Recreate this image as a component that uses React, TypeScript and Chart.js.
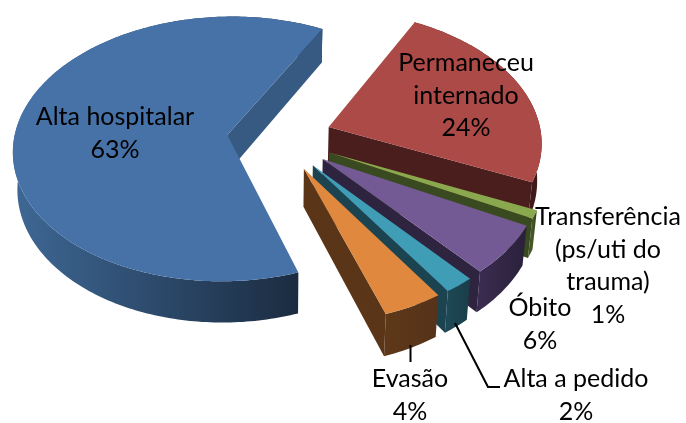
import React, { useEffect, useRef } from "react";
import { Chart, registerables } from "chart.js";

Chart.register(...registerables);

const categories = ["Alta hospitalar", "Permaneceu internado", "Transferência (ps/uti do trauma)", "Óbito", "Alta a pedido", "Evasão"];
const values = [63, 24, 1, 6, 2, 4];
const explode = [52, 53, 55, 55, 55, 55];
const topColors = ["#4672A8", "#AC4A47", "#8AA94E", "#745A95", "#3F9DB5", "#E0883D"];
const wallColors = ["#375A82", "#4A1E1C", "#3A4A20", "#2E2440", "#1B4350", "#5A3517"];
const arcLight = ["#3E6895", "#5C2725", "#445826", "#3A2C50", "#1D4854", "#5E3818"];
const arcDark = ["#1A2A3E", "#3F1A18", "#35441C", "#2A203A", "#193E4A", "#55321A"];
const labelLines = [["Alta hospitalar", "63%"], ["Permaneceu", "internado", "24%"], ["Transferência", "(ps/uti do", "trauma)", "1%"], ["Óbito", "6%"], ["Alta a pedido", "2%"], ["Evasão", "4%"]];
const labelCenterX = [115, 466, 608, 540, 576, 410];
const labelFirstBaseline = [125, 71, 225, 316, 387, 387];
const LINE_HEIGHT = 32.5;
const leaderLines = [[[410.5, 345], [410.5, 362]], [[455, 323], [488, 387], [500, 387]]];

const TILT = 0.617;
const PERSPECTIVE = 0.105;
const DEPTH = 37;
const LEAN = 0.00046;

const pie3d = {
  id: "pie3d",
  beforeDatasetsDraw(chart: any) {
    const { ctx } = chart;
    const arcs = chart.getDatasetMeta(0).data;
    arcs.forEach((el: any, i: number) => {
      const { x: cx, y: cy, startAngle, endAngle, outerRadius: R } = el;
      const off = el.options.offset;
      const mid = (startAngle + endAngle) / 2;
      const ox = cx + Math.cos(mid) * off;
      const oy = cy + Math.sin(mid) * off;
      const project = (px: number, py: number, z: number) => {
        const f = 1 / (1 - (PERSPECTIVE * (py - cy)) / R);
        return [cx + (px - cx) * f * (1 - z * LEAN), cy + (py - cy) * TILT * f + z * f];
      };
      const rim: number[][] = [];
      const steps = Math.max(2, Math.ceil(((endAngle - startAngle) * 180) / Math.PI));
      for (let s = 0; s <= steps; s++) {
        const a = startAngle + ((endAngle - startAngle) * s) / steps;
        rim.push([ox + Math.cos(a) * R, oy + Math.sin(a) * R]);
      }
      const poly = (pts: number[][], fill: any) => {
        ctx.beginPath();
        pts.forEach((p, k) => (k ? ctx.lineTo(p[0], p[1]) : ctx.moveTo(p[0], p[1])));
        ctx.closePath();
        ctx.fillStyle = fill;
        ctx.fill();
      };
      const upper = rim.map((p) => project(p[0], p[1], 0));
      const lower = rim.map((p) => project(p[0], p[1], DEPTH)).reverse();
      const xs = upper.map((p) => p[0]);
      const grad = ctx.createLinearGradient(Math.min(...xs), 0, Math.max(...xs), 0);
      grad.addColorStop(0, arcLight[i]);
      grad.addColorStop(i === 0 ? 0.95 : 1, arcDark[i]);
      poly([...upper, ...lower], grad);
      const last = rim[rim.length - 1];
      poly([project(ox, oy, 0), project(last[0], last[1], 0), project(last[0], last[1], DEPTH), project(ox, oy, DEPTH)], wallColors[i]);
      poly([project(ox, oy, 0), ...upper], topColors[i]);
    });
    return false;
  },
  afterDraw(chart: any) {
    const { ctx } = chart;
    ctx.save();
    ctx.strokeStyle = "#000000";
    ctx.lineWidth = 2;
    leaderLines.forEach((line) => {
      ctx.beginPath();
      line.forEach((p, k) => (k ? ctx.lineTo(p[0], p[1]) : ctx.moveTo(p[0], p[1])));
      ctx.stroke();
    });
    ctx.fillStyle = "#000000";
    ctx.font = "25px Lato";
    ctx.textAlign = "center";
    ctx.textBaseline = "alphabetic";
    labelLines.forEach((lines, i) => {
      lines.forEach((t, k) => ctx.fillText(t, labelCenterX[i], labelFirstBaseline[i] + k * LINE_HEIGHT));
    });
    ctx.restore();
  },
};

export default function App() {
  const ref = useRef<HTMLCanvasElement>(null);
  useEffect(() => {
    const chart = new Chart(ref.current as HTMLCanvasElement, {
      type: "pie",
      data: {
        labels: categories,
        datasets: [{ data: values, backgroundColor: topColors, offset: explode, borderWidth: 0 }],
      },
      options: {
        responsive: false,
        animation: false,
        rotation: 161,
        radius: 213,
        layout: { padding: { right: 128, bottom: 148 } },
        plugins: { legend: { display: false }, tooltip: { enabled: false } },
      },
      plugins: [pie3d],
    } as any);
    return () => chart.destroy();
  }, []);
  return (
    <canvas
      ref={ref}
      width={686}
      height={423}
      style={{ position: "absolute", left: 0, top: 0, display: "block", background: "#fff" }}
    />
  );
}
